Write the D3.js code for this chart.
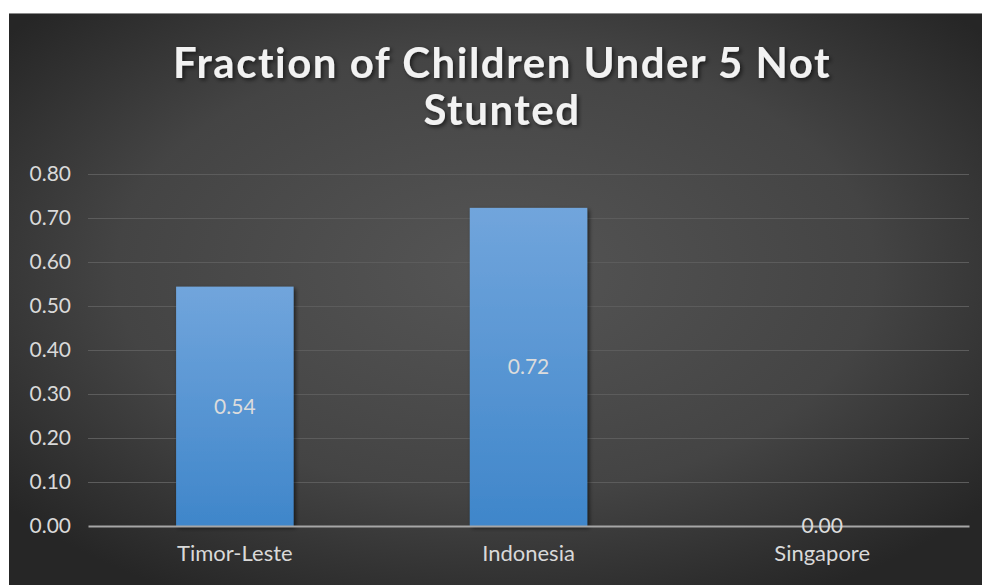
<!DOCTYPE html>
<html>
<head>
<meta charset="utf-8">
<script src="https://cdn.jsdelivr.net/npm/d3@7"></script>
<style>
  body { margin: 0; background: #fff; }
  svg { display: block; }
</style>
</head>
<body>
<svg width="982" height="585"></svg>
<script>
var categories = ["Timor-Leste", "Indonesia", "Singapore"];
var values = [0.544, 0.723, 0];
var valueLabels = ["0.54", "0.72", "0.00"];
var yTicks = [0, 0.1, 0.2, 0.3, 0.4, 0.5, 0.6, 0.7, 0.8];
var titleLines = ["Fraction of Children Under 5 Not", "Stunted"];

var svg = d3.select("svg");
var width = 982, height = 585;
var font = "Lato, 'Open Sans', sans-serif";

var defs = svg.append("defs");
var bg = defs.append("radialGradient")
    .attr("id", "bg")
    .attr("cx", "50%").attr("cy", "45%").attr("r", "65%");
bg.append("stop").attr("offset", "0%").attr("stop-color", "#555555");
bg.append("stop").attr("offset", "60%").attr("stop-color", "#444444");
bg.append("stop").attr("offset", "100%").attr("stop-color", "#262626");

var barGrad = defs.append("linearGradient")
    .attr("id", "bar")
    .attr("x1", 0).attr("y1", 0).attr("x2", 0).attr("y2", 1);
barGrad.append("stop").attr("offset", "0%").attr("stop-color", "#71a5dc");
barGrad.append("stop").attr("offset", "100%").attr("stop-color", "#3f86ca");

var shadow = defs.append("filter").attr("id", "shadow")
    .attr("x", "-10%").attr("y", "-10%").attr("width", "130%").attr("height", "130%");
shadow.append("feDropShadow")
    .attr("dx", 2).attr("dy", 2).attr("stdDeviation", 2)
    .attr("flood-color", "#000").attr("flood-opacity", 0.6);

// chart area background
svg.append("rect")
    .attr("x", 9).attr("y", 13)
    .attr("width", width - 9).attr("height", height - 13)
    .attr("fill", "url(#bg)");
svg.append("line")
    .attr("x1", 9).attr("x2", width).attr("y1", 13.5).attr("y2", 13.5)
    .attr("stroke", "#8a8a8a").attr("stroke-width", 1);

var plotLeft = 88, plotRight = 969, plotTop = 174, plotBottom = 526;

var x = d3.scaleBand()
    .domain(categories)
    .range([plotLeft, plotRight])
    .paddingInner(0.6)
    .paddingOuter(0.3);

var y = d3.scaleLinear()
    .domain([0, 0.8])
    .range([plotBottom, plotTop]);

// gridlines
svg.append("g")
    .selectAll("line")
    .data(yTicks.filter(function(d) { return d > 0; }))
    .join("line")
    .attr("x1", plotLeft).attr("x2", plotRight)
    .attr("y1", function(d) { return Math.round(y(d)) + 0.5; })
    .attr("y2", function(d) { return Math.round(y(d)) + 0.5; })
    .attr("stroke", "#5c5c5c")
    .attr("stroke-width", 1);

// y axis labels
var yAxis = d3.axisLeft(y)
    .tickValues(yTicks)
    .tickFormat(d3.format(".2f"))
    .tickSize(0)
    .tickPadding(15);
var yg = svg.append("g")
    .attr("transform", "translate(" + (plotLeft - 2) + ",0)")
    .call(yAxis);
yg.select(".domain").remove();
yg.selectAll("text")
    .attr("fill", "#d9d9d9")
    .style("font-family", font)
    .style("font-size", "21px");

// bars
svg.append("g")
    .selectAll("rect")
    .data(values)
    .join("rect")
    .attr("x", function(d, i) { return x(categories[i]); })
    .attr("width", x.bandwidth())
    .attr("y", function(d) { return y(d); })
    .attr("height", function(d) { return y(0) - y(d); })
    .attr("fill", "url(#bar)")
    .attr("filter", "url(#shadow)");

// baseline axis
var xAxis = d3.axisBottom(x).tickSize(0).tickPadding(19);
var xg = svg.append("g")
    .attr("transform", "translate(0," + plotBottom + ")")
    .call(xAxis);
xg.select(".domain")
    .attr("stroke", "#a6a6a6")
    .attr("stroke-width", 2);
xg.selectAll("text")
    .attr("fill", "#d9d9d9")
    .style("font-family", font)
    .style("font-size", "22px");

// value labels
svg.append("g")
    .selectAll("text")
    .data(values)
    .join("text")
    .attr("x", function(d, i) { return x(categories[i]) + x.bandwidth() / 2; })
    .attr("y", function(d) { return (y(d) + y(0)) / 2; })
    .attr("dy", "0.35em")
    .attr("text-anchor", "middle")
    .attr("fill", "#dcdcdc")
    .style("font-family", font)
    .style("font-size", "21px")
    .text(function(d, i) { return valueLabels[i]; });

// title
svg.append("g")
    .selectAll("text")
    .data(titleLines)
    .join("text")
    .attr("x", 502)
    .attr("y", function(d, i) { return 63 + i * 47; })
    .attr("dy", "0.35em")
    .attr("text-anchor", "middle")
    .attr("fill", "#f2f2f2")
    .attr("filter", "url(#shadow)")
    .style("font-family", font)
    .style("font-weight", "bold")
    .style("font-size", "42px")
    .style("letter-spacing", "1.5px")
    .text(function(d) { return d; });
</script>
</body>
</html>
